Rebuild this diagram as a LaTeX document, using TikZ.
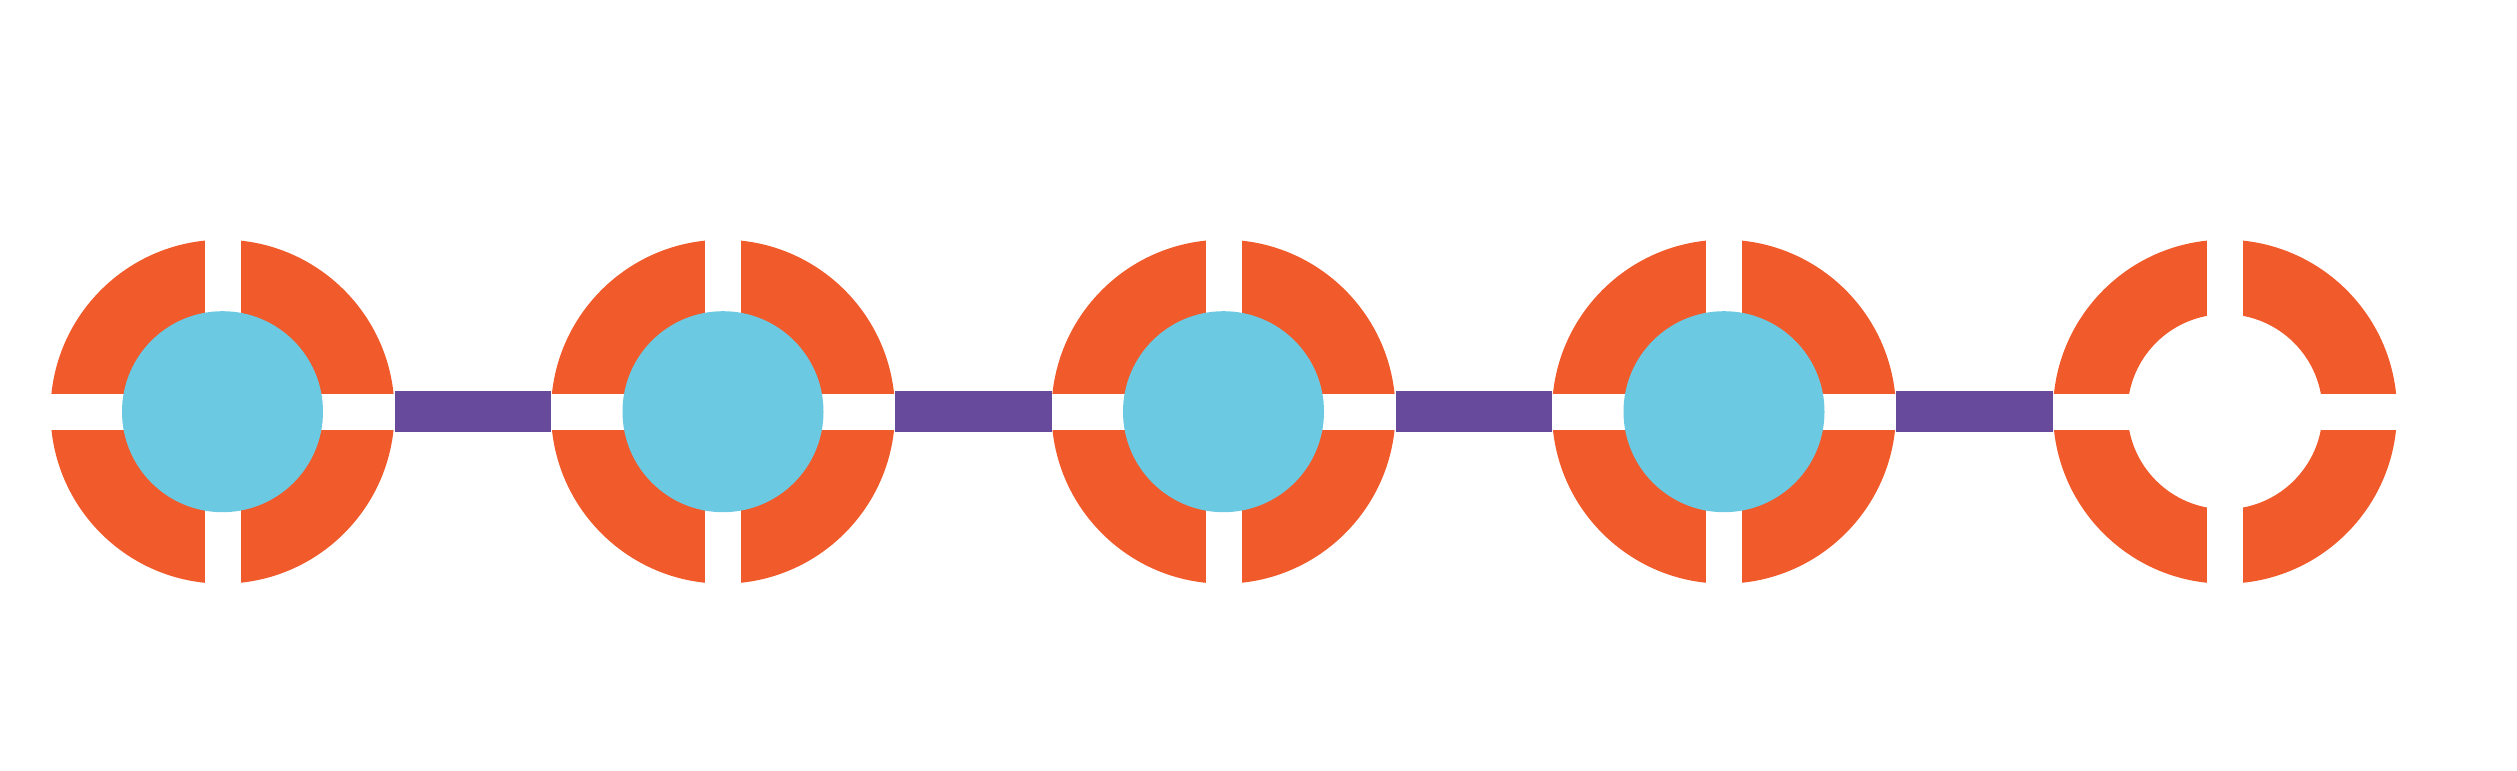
\documentclass[tikz,border=0pt]{standalone}
\definecolor{ringorange}{HTML}{F15A2B}
\definecolor{hubblue}{HTML}{6BC9E1}
\definecolor{barpurple}{HTML}{674A9C}
\tikzset{
  ringnode/.style={circle, minimum size=344pt, inner sep=0pt, outer sep=0pt},
  hubnode/.style={circle, fill=hubblue, minimum size=201pt, inner sep=0pt, outer sep=0pt},
  linkbar/.style={barpurple, line width=41.6pt},
  ringfill/.style={fill=ringorange, even odd rule},
  gapfill/.style={fill=white}
}
\begin{document}
\begin{tikzpicture}[x=1pt,y=1pt]
\useasboundingbox (0,0) rectangle (2517,771);
\foreach \i/\cx in {1/222.5,2/723,3/1223.5,4/1724,5/2225} {
  \node[ringnode] (r\i) at (\cx,359.3) {};
  \begin{scope}[shift={(\cx,359.3)}]
    \path[ringfill] (0,0) circle[radius=172] (0,0) circle[radius=97.5];
    \path[gapfill] (-18,-174) rectangle (18,174);
    \path[gapfill] (-174,-18) rectangle (174,18);
  \end{scope}
}
\foreach \i in {1,2,3,4} {
  \node[hubnode] (h\i) at (r\i.center) {};
}
\draw[linkbar] (r1.east) -- (r2.west);
\draw[linkbar] (r2.east) -- (r3.west);
\draw[linkbar] (r3.east) -- (r4.west);
\draw[linkbar] (r4.east) -- (r5.west);
\end{tikzpicture}
\end{document}
